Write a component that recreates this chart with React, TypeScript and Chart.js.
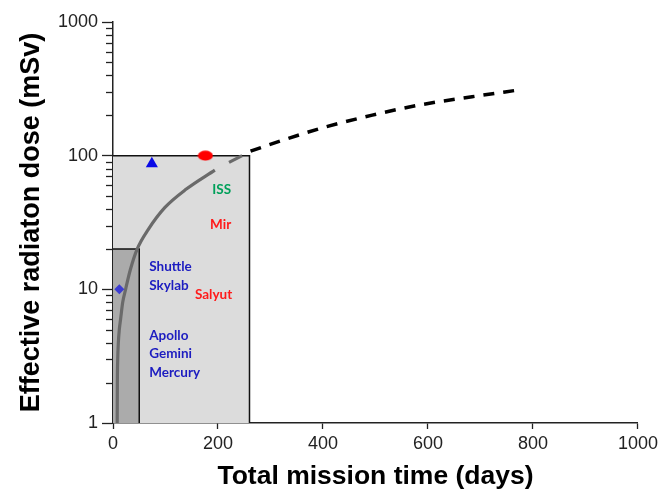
import React, { useEffect, useRef } from "react";
import { Chart, registerables } from "chart.js";

Chart.register(...registerables);

// ---- data ----
const grayCurveDays = [8, 8.3, 9, 10.2, 12, 14.5, 18.5, 24, 33, 46, 67, 99, 139, 194];
const grayCurveDose = [1, 2, 3, 4, 5, 6, 8, 10, 14, 20, 28, 41, 56, 78];
const grayTailDays = [221, 246];
const grayTailDose = [89, 100];
const projDays = [262, 322, 405, 494, 583, 684, 780];
const projDose = [108, 130, 164, 201, 239, 276, 313];
const lightBoxDays = [0, 260, 260];
const lightBoxDose = [100, 100, 1];
const darkBoxDays = [0, 50, 50];
const darkBoxDose = [20, 20, 1];
const triangleMarker = { day: 74, dose: 87 };
const ellipseMarker = { day: 176, dose: 100 };
const diamondMarker = { day: 12, dose: 10 };
const programLabels = ["ISS", "Mir", "Shuttle", "Skylab", "Salyut", "Apollo", "Gemini", "Mercury"];
const labelDays = [189, 185, 69, 69, 156, 69, 69, 69];
const labelDose = [55.6, 30.4, 14.7, 10.6, 9.2, 4.5, 3.3, 2.4];
const labelColors = ["#00a05a", "#ff1a1a", "#1c1cc0", "#1c1cc0", "#ff1a1a", "#1c1cc0", "#1c1cc0", "#1c1cc0"];
const xTickStep = 200;
const yMajorTicks = [1, 10, 100, 1000];
const yMinorMultipliers = [2, 3, 4, 5, 6, 7, 8, 9];

const pts = (xs: number[], ys: number[]) => xs.map((x, i) => ({ x, y: ys[i] }));

const FONT = "'Liberation Sans', Arial, sans-serif";

export default function App() {
  const ref = useRef<HTMLCanvasElement>(null);
  useEffect(() => {
    document.body.style.margin = "0";
    const canvas = ref.current!;

    const ell = document.createElement("canvas");
    ell.width = 16;
    ell.height = 11;
    const ec = ell.getContext("2d")!;
    ec.fillStyle = "#ff0000";
    ec.beginPath();
    ec.ellipse(8, 5.5, 7.5, 5, 0, 0, Math.PI * 2);
    ec.fill();

    const overlay = {
      id: "overlay",
      afterDatasetsDraw(chart: any) {
        const { ctx, scales } = chart;
        const x = scales.x;
        const y = scales.y;
        ctx.save();
        ctx.font = "bold 13.5px Lato, 'Open Sans', sans-serif";
        ctx.textBaseline = "middle";
        ctx.textAlign = "left";
        programLabels.forEach((t, i) => {
          ctx.fillStyle = labelColors[i];
          ctx.fillText(t, x.getPixelForValue(labelDays[i]), y.getPixelForValue(labelDose[i]));
        });
        // minor log ticks
        const left = chart.chartArea.left;
        ctx.strokeStyle = "#222";
        ctx.lineWidth = 1.3;
        for (let d = 0; d < yMajorTicks.length - 1; d++) {
          yMinorMultipliers.forEach((m) => {
            const py = Math.round(y.getPixelForValue(yMajorTicks[d] * m)) + 0.5;
            ctx.beginPath();
            ctx.moveTo(left - 7, py);
            ctx.lineTo(left, py);
            ctx.stroke();
          });
        }
        ctx.restore();
      },
    };

    const chart = new Chart(canvas, {
      type: "scatter",
      data: {
        datasets: [
          {
            data: [{ x: triangleMarker.day, y: triangleMarker.dose }],
            pointStyle: "triangle",
            radius: 7,
            backgroundColor: "#0a0ae6",
            borderColor: "#0a0ae6",
            borderWidth: 0,
            order: 0,
          },
          {
            data: [{ x: ellipseMarker.day, y: ellipseMarker.dose }],
            pointStyle: ell as any,
            radius: 7,
            order: 0,
          },
          {
            data: [{ x: diamondMarker.day, y: diamondMarker.dose }],
            pointStyle: "rectRot",
            radius: 5,
            backgroundColor: "#3c3cd2",
            borderColor: "#3c3cd2",
            borderWidth: 0,
            order: 0,
          },
          {
            data: pts(grayCurveDays, grayCurveDose),
            showLine: true,
            borderColor: "#6a6a6a",
            borderWidth: 3.2,
            pointRadius: 0,
            cubicInterpolationMode: "monotone",
            order: 2,
          } as any,
          {
            data: pts(grayTailDays, grayTailDose),
            showLine: true,
            borderColor: "#6a6a6a",
            borderWidth: 3.2,
            pointRadius: 0,
            order: 2,
          },
          {
            data: pts(projDays, projDose),
            showLine: true,
            borderColor: "#000",
            borderWidth: 3.5,
            borderDash: [11, 9],
            pointRadius: 0,
            cubicInterpolationMode: "monotone",
            order: 2,
          } as any,
          {
            data: pts(darkBoxDays, darkBoxDose),
            showLine: true,
            borderColor: "#111",
            borderWidth: 1.5,
            backgroundColor: "#ababab",
            fill: "start",
            pointRadius: 0,
            order: 8,
          },
          {
            data: pts(lightBoxDays, lightBoxDose),
            showLine: true,
            borderColor: "#111",
            borderWidth: 1.5,
            backgroundColor: "#dcdcdc",
            fill: "start",
            pointRadius: 0,
            order: 9,
          },
        ],
      },
      options: {
        animation: false,
        responsive: false,
        maintainAspectRatio: false,
        layout: { padding: { top: 22, right: 18, left: 0, bottom: 0 } },
        plugins: { legend: { display: false }, tooltip: { enabled: false } },
        scales: {
          x: {
            type: "linear",
            min: 0,
            max: 1000,
            ticks: {
              stepSize: xTickStep,
              callback: (v: any) => String(v),
              font: { family: FONT, size: 18 },
              color: "#222",
              padding: 4,
            },
            grid: { drawOnChartArea: false, tickLength: 6, color: "#222", tickWidth: 1.3 },
            border: { color: "#222", width: 1.5 },
            title: {
              display: true,
              text: "Total mission time (days)",
              font: { family: FONT, size: 26.5, weight: "bold" },
              color: "#000",
              padding: { top: 0, bottom: 0 },
            },
            afterFit: (s: any) => {
              s.height = 70;
            },
          },
          y: {
            type: "logarithmic",
            min: 1,
            max: 1000,
            afterBuildTicks: (s: any) => {
              s.ticks = yMajorTicks.map((v) => ({ value: v }));
            },
            ticks: {
              callback: (v: any) => String(v),
              font: { family: FONT, size: 18 },
              color: "#222",
              padding: 4,
              autoSkip: false,
            },
            grid: { drawOnChartArea: false, tickLength: 11, color: "#222", tickWidth: 1.3 },
            border: { color: "#222", width: 1.5 },
            title: {
              display: true,
              text: "Effective radiaton dose (mSv)",
              font: { family: FONT, size: 27, weight: "bold" },
              color: "#000",
              padding: { top: 15, bottom: 0 },
            },
            afterFit: (s: any) => {
              s.width = 113;
            },
          },
        },
      },
      plugins: [overlay],
    });
    return () => chart.destroy();
  }, []);
  return <canvas ref={ref} width={662} height={493} style={{ display: "block" }} />;
}
